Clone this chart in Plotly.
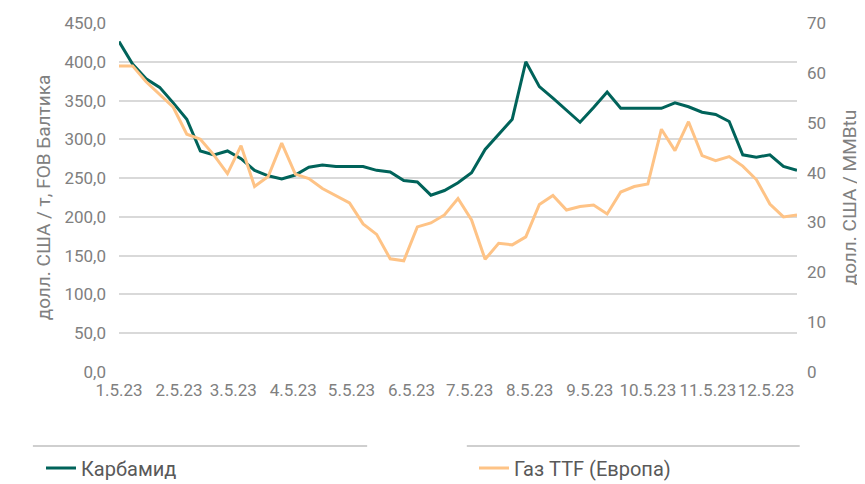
import pandas as pd
import plotly.graph_objects as go

# Weekly observation dates
dates = pd.date_range("2023-01-05", periods=51, freq="7D")

# Карбамид, долл. США / т, FOB Балтика (left axis)
carbamide = [426, 397, 378, 367, 347, 326, 285, 280, 285, 275,
             260, 253, 249, 254, 264, 267, 265, 265, 265, 260,
             258, 247, 245, 228, 234, 244, 257, 287, 307, 326,
             400, 368, 353, 337, 322, 341, 361, 340, 340, 340,
             340, 347, 342, 335, 332, 323, 280, 277, 280, 265, 260]

# Газ TTF (Европа), долл. США / MMBtu (right axis)
gas_ttf = [61.4, 61.4, 58.2, 55.6, 53.1, 47.7, 46.7, 43.5, 39.8, 45.4,
           37.2, 39.2, 45.9, 39.7, 38.8, 36.8, 35.4, 33.9, 29.7, 27.6,
           22.7, 22.3, 29.1, 29.9, 31.5, 34.8, 30.5, 22.6, 25.8, 25.5,
           27.1, 33.6, 35.4, 32.5, 33.2, 33.5, 31.7, 36.1, 37.2, 37.7,
           48.7, 44.4, 50.2, 43.4, 42.4, 43.2, 41.3, 38.6, 33.7, 31.1, 31.5]

tick_dates = ["2023-01-05", "2023-02-05", "2023-03-05", "2023-04-05",
              "2023-05-05", "2023-06-05", "2023-07-05", "2023-08-05",
              "2023-09-05", "2023-10-05", "2023-11-05", "2023-12-05"]
tick_labels = ["1.5.23", "2.5.23", "3.5.23", "4.5.23", "5.5.23", "6.5.23",
               "7.5.23", "8.5.23", "9.5.23", "10.5.23", "11.5.23", "12.5.23"]

TEAL = "#00635a"
PEACH = "#fec386"
GREY_TXT = "#808080"
GRID = "#d9d9d9"
FONT = "Roboto"

# figure is 857x476 because the page body adds an 8px margin
W, H = 857, 476

fig = go.Figure()
fig.add_trace(go.Scatter(x=dates, y=carbamide, name="Карбамид", mode="lines",
                         line=dict(color=TEAL, width=3), yaxis="y", legend="legend",
                         showlegend=True))
fig.add_trace(go.Scatter(x=dates, y=gas_ttf, name="Газ TTF (Европа)", mode="lines",
                         line=dict(color=PEACH, width=3), yaxis="y2", legend="legend2",
                         showlegend=True))

fig.update_layout(
    width=W, height=H,
    margin=dict(l=111, r=68, t=15, b=112),
    paper_bgcolor="white", plot_bgcolor="white",
    separators=", ",
    showlegend=True,
    font=dict(family=FONT, size=17, color=GREY_TXT),
    xaxis=dict(
        type="date", automargin=False,
        range=[dates[0], dates[-1]],
        tickvals=tick_dates, ticktext=tick_labels, tickangle=0,
        showgrid=False, zeroline=False, showline=False, ticks="",
        ticklabelstandoff=6,
        tickfont=dict(size=17, color=GREY_TXT),
    ),
    yaxis=dict(
        automargin=False,
        range=[0, 450], dtick=50, tickformat=".1f",
        showgrid=True, gridcolor=GRID, gridwidth=2,
        zeroline=False, showline=False, ticks="",
        ticklabelstandoff=12,
        title=dict(text="долл. США / т, FOB Балтика", font=dict(size=19, color=GREY_TXT), standoff=8),
        tickfont=dict(size=17, color=GREY_TXT),
    ),
    yaxis2=dict(
        automargin=False,
        range=[0, 70], dtick=10, tickformat="d",
        overlaying="y", side="right",
        showgrid=False, zeroline=False, showline=False, ticks="",
        ticklabelstandoff=9,
        title=dict(text="долл. США / MMBtu", font=dict(size=19, color=GREY_TXT), standoff=17),
        tickfont=dict(size=17, color=GREY_TXT),
    ),
    legend=dict(orientation="h", xref="container", yref="container",
                x=33 / W, y=1 - 460 / H, xanchor="left", yanchor="middle",
                font=dict(size=20, color="#595959"), itemwidth=30, bgcolor="rgba(0,0,0,0)"),
    legend2=dict(orientation="h", xref="container", yref="container",
                 x=466 / W, y=1 - 460 / H, xanchor="left", yanchor="middle",
                 font=dict(size=20, color="#595959"), itemwidth=30, bgcolor="rgba(0,0,0,0)"),
    shapes=[
        dict(type="line", xref="paper", yref="paper", x0=-0.127, x1=0.366, y0=-0.212, y1=-0.212,
             line=dict(color="#bfbfbf", width=1.5)),
        dict(type="line", xref="paper", yref="paper", x0=0.513, x1=1.004, y0=-0.212, y1=-0.212,
             line=dict(color="#bfbfbf", width=1.5)),
    ],
)

fig.write_html("out.html")
